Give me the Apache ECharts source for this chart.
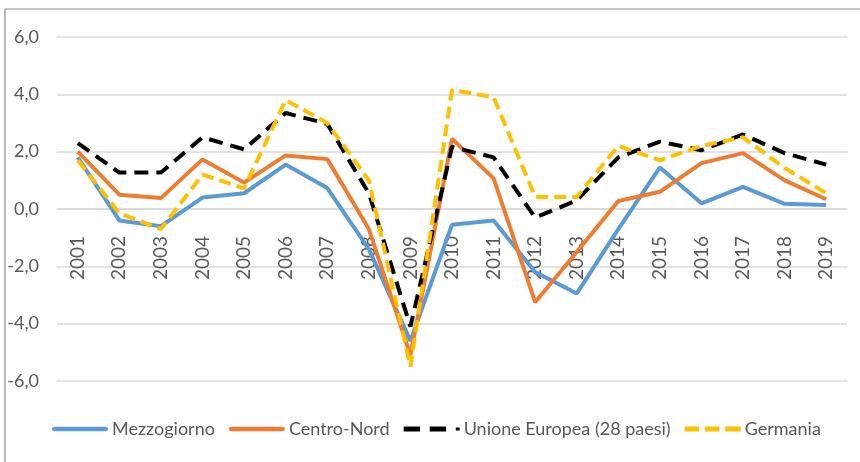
<!DOCTYPE html>
<html>
<head>
<meta charset="utf-8">
<script src="https://cdn.jsdelivr.net/npm/echarts@6/dist/echarts.min.js"></script>
<style>
html,body{margin:0;padding:0;background:#fff;}
#c{width:860px;height:462px;}
</style>
</head>
<body>
<div id="c"></div>
<script>
const years = ['2001','2002','2003','2004','2005','2006','2007','2008','2009','2010','2011','2012','2013','2014','2015','2016','2017','2018','2019'];
const mezzogiorno = [1.8,-0.4,-0.6,0.4,0.55,1.55,0.73,-1.4,-4.6,-0.55,-0.4,-2.2,-2.95,-0.7,1.45,0.2,0.77,0.18,0.14];
const centroNord = [2.0,0.5,0.38,1.73,0.92,1.87,1.74,-0.7,-5.1,2.45,1.07,-3.25,-1.5,0.28,0.6,1.6,1.95,1.0,0.34];
const ue28 = [2.3,1.27,1.27,2.5,2.08,3.35,2.97,0.55,-4.1,2.17,1.8,-0.3,0.3,1.8,2.35,2.05,2.6,1.95,1.55];
const germania = [1.7,-0.15,-0.7,1.2,0.72,3.8,3.0,1.0,-5.5,4.15,3.9,0.42,0.42,2.2,1.7,2.2,2.5,1.43,0.55];
const yTicks = [-6,-4,-2,0,2,4,6];

const font = "Lato, 'Open Sans', sans-serif";
const chart = echarts.init(document.getElementById('c'), null, {renderer:'canvas'});
function ser(name, data, color, type){
  return {name, type:'line', data, symbol:'none', smooth:false,
    lineStyle:{color, width:4, type: type || 'solid', cap:'butt'},
    itemStyle:{color}, z: type ? 3 : 2};
}
const gridTop = 37, gridBottom = 81, H = 462;
const plotH = H - gridTop - gridBottom;
const zeroOffset = -plotH * (0 - yTicks[0]) / (yTicks[yTicks.length-1] - yTicks[0]);
const iconSolid = 'path://M2,0H56A2.5,2.5 0 0 1 56,5H2A2.5,2.5 0 0 1 2,0Z';
const iconDashDot = 'path://M0,0H17V5H0Z M27,0H44V5H27Z M54,1H58V4H54Z';
const iconDash = 'path://M0,0H15V5H0Z M21,0H36V5H21Z M42,0H58V5H42Z';
chart.setOption({
  animation:false,
  graphic:[{type:'rect', shape:{x:5,y:9,width:900,height:520}, style:{fill:'none', stroke:'#8c8c8c', lineWidth:1.2}, silent:true}],
  grid:{left:57, right:13, top:gridTop, bottom:gridBottom, containLabel:false},
  legend:{
    bottom:19, left:47, itemWidth:56, itemHeight:5, itemGap:14,
    textStyle:{color:'#595959', fontSize:18, fontFamily:font, padding:[0,0,0,-1]},
    data:[
      {name:'Mezzogiorno', icon: iconSolid},
      {name:'Centro-Nord', icon: iconSolid},
      {name:'Unione Europea (28 paesi)', icon: iconDashDot},
      {name:'Germania', icon: iconDash}
    ]
  },
  xAxis:{
    type:'category', data:years, boundaryGap:true, offset: zeroOffset,
    axisLine:{show:true, onZero:false, lineStyle:{color:'#d9d9d9', width:1.5}},
    axisTick:{show:false},
    axisLabel:{rotate:90, color:'#595959', fontSize:19, fontFamily:font, margin:27, interval:0}
  },
  yAxis:{
    type:'value', min:yTicks[0], max:yTicks[yTicks.length-1], interval:2,
    axisLine:{show:false}, axisTick:{show:false},
    splitLine:{lineStyle:{color:'#d9d9d9', width:1.5}},
    axisLabel:{color:'#595959', fontSize:18, fontFamily:font, margin:18,
      formatter: v => v.toFixed(1).replace('.', ',')}
  },
  series:[
    ser('Mezzogiorno', mezzogiorno, '#5B9BD5'),
    ser('Centro-Nord', centroNord, '#ED7D31'),
    ser('Unione Europea (28 paesi)', ue28, '#000000', [14,8]),
    ser('Germania', germania, '#FFC000', [12,6])
  ]
});
</script>
</body>
</html>
